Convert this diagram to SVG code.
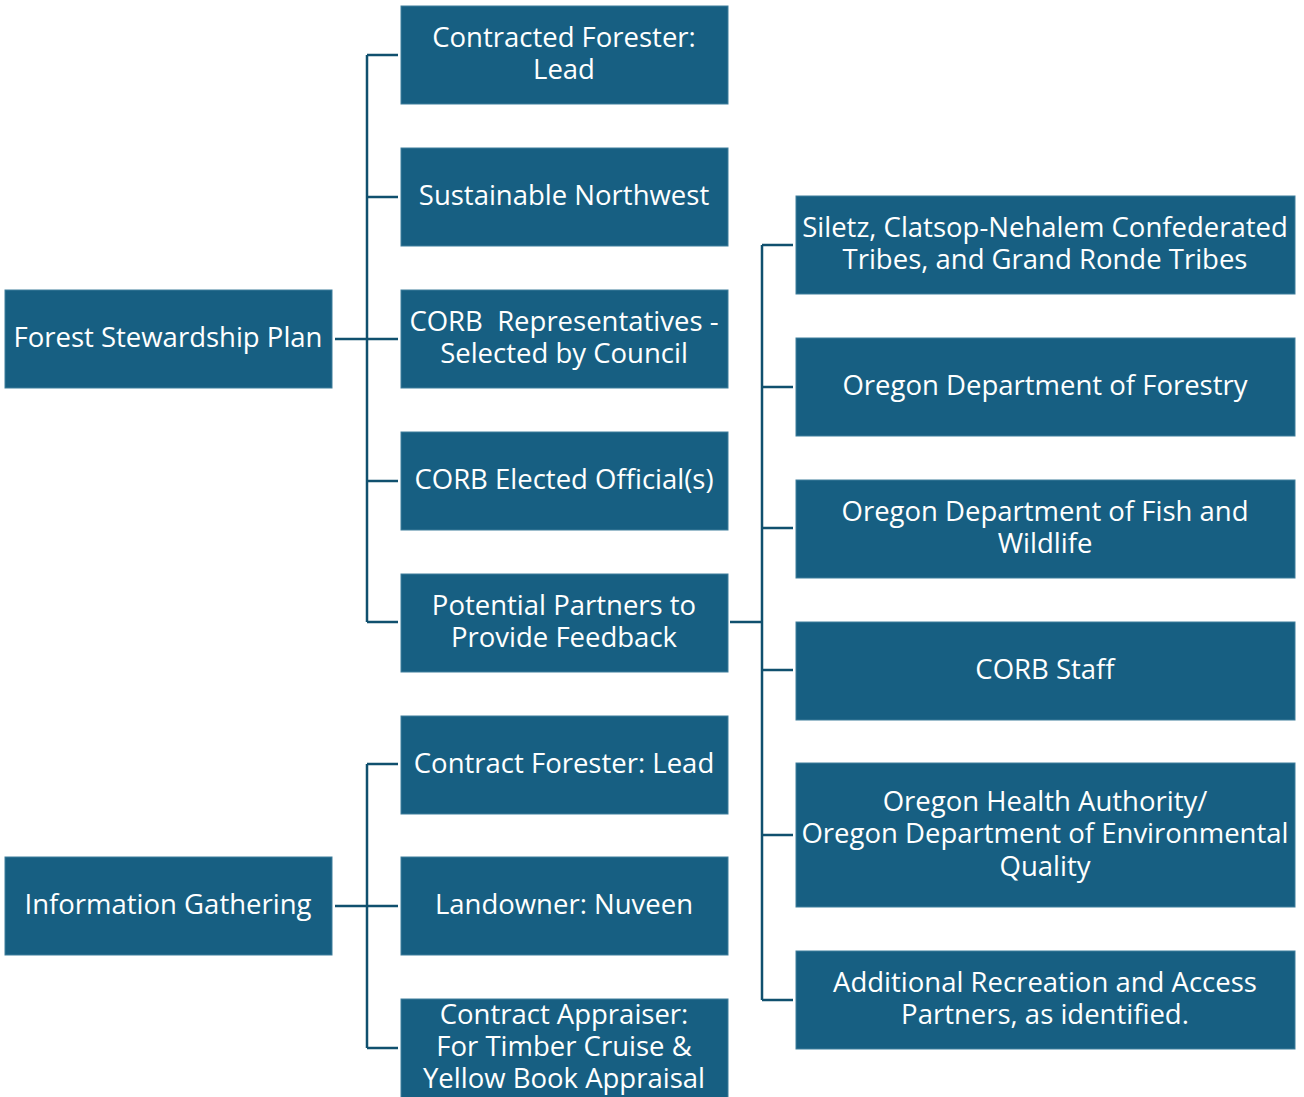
<svg xmlns="http://www.w3.org/2000/svg" width="1304" height="1097" viewBox="0 0 1304 1097">
<style>
.box{fill:#175F82;stroke:#3E7E9C;stroke-width:1}
.t{font-family:"Open Sans","Liberation Sans",sans-serif;font-size:27.5px;fill:#FFFFFF;text-anchor:middle}
.c{stroke:#10506E;stroke-width:2.5;fill:none}
</style>
<rect width="1304" height="1097" fill="#FFFFFF"/>
<g id="connectors">
<path class="c" d="M335 339H398M367 55V622M367 55H398M367 197H398M367 339H398M367 481H398M367 622H398"/>
<path class="c" d="M730 622H762M762 245V1000M762 245H793M762 387H793M762 528H793M762 670H793M762 835H793M762 1000H793"/>
<path class="c" d="M335 906H398M367 764V1048M367 764H398M367 906H398M367 1048H398"/>
</g>
<g id="n-fsp"><rect class="box" x="5" y="290" width="327" height="98"/><text class="t" x="168" y="347">Forest Stewardship Plan</text></g>
<g id="n-ig"><rect class="box" x="5" y="857" width="327" height="98"/><text class="t" x="168" y="914">Information Gathering</text></g>
<g id="n-cf"><rect class="box" x="401" y="6" width="327" height="98"/><text class="t" x="564" y="47">Contracted Forester:</text><text class="t" x="564" y="79">Lead</text></g>
<g id="n-snw"><rect class="box" x="401" y="148" width="327" height="98"/><text class="t" x="564" y="205">Sustainable Northwest</text></g>
<g id="n-corbrep"><rect class="box" x="401" y="290" width="327" height="98"/><text class="t" x="564" y="331" xml:space="preserve">CORB  Representatives -</text><text class="t" x="564" y="363">Selected by Council</text></g>
<g id="n-corbeo"><rect class="box" x="401" y="432" width="327" height="98"/><text class="t" x="564" y="489">CORB Elected Official(s)</text></g>
<g id="n-pp"><rect class="box" x="401" y="574" width="327" height="98"/><text class="t" x="564" y="615">Potential Partners to</text><text class="t" x="564" y="647">Provide Feedback</text></g>
<g id="n-cfl"><rect class="box" x="401" y="716" width="327" height="98"/><text class="t" x="564" y="773">Contract Forester: Lead</text></g>
<g id="n-ln"><rect class="box" x="401" y="857" width="327" height="98"/><text class="t" x="564" y="914">Landowner: Nuveen</text></g>
<g id="n-ca"><rect class="box" x="401" y="999" width="327" height="99"/><text class="t" x="564" y="1024">Contract Appraiser:</text><text class="t" x="564" y="1056">For Timber Cruise &amp;</text><text class="t" x="564" y="1088">Yellow Book Appraisal</text></g>
<g id="n-tribes"><rect class="box" x="796" y="196" width="499" height="98"/><text class="t" x="1045" y="237">Siletz, Clatsop-Nehalem Confederated</text><text class="t" x="1045" y="269">Tribes, and Grand Ronde Tribes</text></g>
<g id="n-odf"><rect class="box" x="796" y="338" width="499" height="98"/><text class="t" x="1045" y="395">Oregon Department of Forestry</text></g>
<g id="n-odfw"><rect class="box" x="796" y="480" width="499" height="98"/><text class="t" x="1045" y="521">Oregon Department of Fish and</text><text class="t" x="1045" y="553">Wildlife</text></g>
<g id="n-staff"><rect class="box" x="796" y="622" width="499" height="98"/><text class="t" x="1045" y="679">CORB Staff</text></g>
<g id="n-oha"><rect class="box" x="796" y="763" width="499" height="144"/><text class="t" x="1045" y="811">Oregon Health Authority/</text><text class="t" x="1045" y="843">Oregon Department of Environmental</text><text class="t" x="1045" y="876">Quality</text></g>
<g id="n-rec"><rect class="box" x="796" y="951" width="499" height="98"/><text class="t" x="1045" y="992">Additional Recreation and Access</text><text class="t" x="1045" y="1024">Partners, as identified.</text></g>
</svg>
